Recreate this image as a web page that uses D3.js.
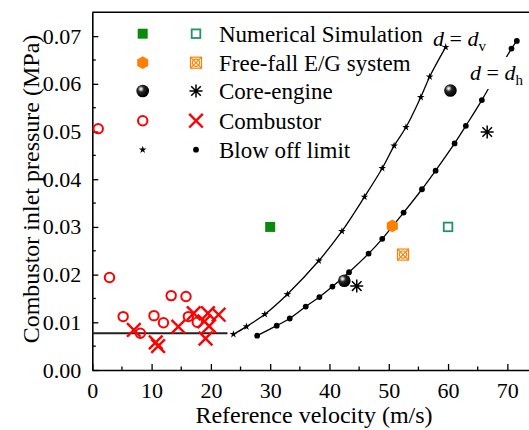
<!DOCTYPE html>
<html>
<head>
<meta charset="utf-8">
<script src="https://cdn.jsdelivr.net/npm/d3@7"></script>
<style>
  html, body { margin: 0; padding: 0; background: #fff; overflow: hidden; }
  svg { display: block; font-family: "Liberation Serif", "Times New Roman", serif; }
</style>
</head>
<body>
<svg id="chart" width="529" height="430"></svg>
<script>
// Reference velocity (m/s), combustor inlet pressure (MPa)
const numSimFilled = [[30.0, 0.0300]];
const numSimOpen = [[60.0, 0.0300]];
const freeFallFilled = [[50.6, 0.0302]];
const freeFallOpen = [[52.4, 0.0242]];
const coreBall = [[42.5, 0.0187], [60.4, 0.0586]];
const coreStar = [[44.6, 0.0176], [66.6, 0.0499]];
const combustorCircle = [
  [1.0, 0.0506], [2.9, 0.0194], [5.2, 0.0112], [8.1, 0.0077], [10.4, 0.0114],
  [12.0, 0.0099], [13.3, 0.0156], [15.8, 0.0154], [16.2, 0.0112], [17.7, 0.0100]
];
const combustorCross = [
  [7.0, 0.0084], [10.7, 0.0058], [11.1, 0.0050], [14.5, 0.0091], [17.1, 0.0119],
  [18.9, 0.0102], [19.1, 0.0066], [19.5, 0.0119], [19.7, 0.0092], [21.3, 0.0116]
];
// Blow off limit, d = d_v
const blowOffV = [
  [23.8, 0.0075], [26.0, 0.0091], [29.1, 0.0117], [32.9, 0.0159], [38.2, 0.0229],
  [42.1, 0.0291], [45.9, 0.0363], [48.9, 0.0423], [50.9, 0.0470], [52.9, 0.0509],
  [55.4, 0.0572], [56.9, 0.0615], [59.6, 0.0677]
];
// Blow off limit, d = d_h
const blowOffH = [
  [27.8, 0.0072], [31.1, 0.0093], [33.3, 0.0108], [36.0, 0.0133], [38.3, 0.0153],
  [40.5, 0.0175], [43.3, 0.0205], [46.6, 0.0244], [48.9, 0.0275], [52.5, 0.0330],
  [55.6, 0.0379], [57.9, 0.0418], [61.1, 0.0475], [63.0, 0.0512], [65.7, 0.0566],
  [70.7, 0.0674], [71.6, 0.0690]
];
const lowLimit = [[0, 0.0077], [22.8, 0.0077]];
const xTicks = [0, 10, 20, 30, 40, 50, 60, 70];
const yTicks = [0, 0.01, 0.02, 0.03, 0.04, 0.05, 0.06, 0.07];
const legendRows = [
  "Numerical Simulation", "Free-fall E/G system", "Core-engine", "Combustor", "Blow off limit"
];

const svg = d3.select("#chart");
const x = d3.scaleLinear().domain([0, 75]).range([92.3, 537]);
const y = d3.scaleLinear().domain([0, 0.075]).range([370, 12.3]);

const defs = svg.append("defs");
const grad = defs.append("radialGradient").attr("id", "ball")
  .attr("cx", "36%").attr("cy", "34%").attr("r", "62%");
grad.append("stop").attr("offset", "0%").attr("stop-color", "#ffffff");
grad.append("stop").attr("offset", "14%").attr("stop-color", "#c8c8c8");
grad.append("stop").attr("offset", "40%").attr("stop-color", "#262626");
grad.append("stop").attr("offset", "100%").attr("stop-color", "#000000");

// Marker painters
const orange = "#ff8000";
const mk = {
  sqFilled: (g) => g.append("rect").attr("x", -5).attr("y", -5).attr("width", 10).attr("height", 10)
      .attr("fill", "#0a8a0a"),
  sqOpen: (g) => g.append("rect").attr("x", -4.3).attr("y", -4.3).attr("width", 8.6).attr("height", 8.6)
      .attr("fill", "none").attr("stroke", "#1f9466").attr("stroke-width", 1.8),
  hex: (g) => g.append("path")
      .attr("d", d3.range(6).map(i => { const a = Math.PI / 3 * i + Math.PI / 6; return (i ? "L" : "M") + (6.4 * Math.cos(a)) + "," + (6.4 * Math.sin(a)); }).join("") + "Z")
      .attr("fill", orange),
  crossSq: (g) => {
    g.append("rect").attr("x", -5.5).attr("y", -5.5).attr("width", 11).attr("height", 11)
      .attr("fill", "none").attr("stroke", orange).attr("stroke-width", 1.2);
    g.append("path").attr("d", "M-5.5,-5.5L5.5,5.5M-5.5,5.5L5.5,-5.5").attr("stroke", orange).attr("stroke-width", 1.2);
    g.append("circle").attr("r", 3.6).attr("fill", "none").attr("stroke", orange).attr("stroke-width", 1.2);
  },
  ball: (g) => g.append("circle").attr("r", 6.3).attr("fill", "url(#ball)"),
  asterisk: (g) => g.append("path")
      .attr("d", "M-6.5,0L6.5,0M0,-6.5L0,6.5M-4.8,-4.8L4.8,4.8M-4.8,4.8L4.8,-4.8")
      .attr("stroke", "#000").attr("stroke-width", 1.5),
  circle: (g) => g.append("circle").attr("r", 4.7).attr("fill", "none")
      .attr("stroke", "#ff0000").attr("stroke-width", 2),
  cross: (g) => g.append("path").attr("d", "M-6.8,-6.8L6.8,6.8M-6.8,6.8L6.8,-6.8")
      .attr("stroke", "#ff0000").attr("stroke-width", 2.4),
  star: (g) => g.append("path").attr("d", d3.symbol(d3.symbolStar, 18)()).attr("fill", "#000"),
  dot: (g) => g.append("circle").attr("r", 2.9).attr("fill", "#000")
};

function plotPoints(data, painter, layer) {
  data.forEach(d => {
    const g = layer.append("g").attr("transform", `translate(${x(d[0])},${y(d[1])})`);
    painter(g);
  });
}

// Axes with inward ticks
const xAxis = svg.append("g").attr("transform", `translate(0,${y(0)})`);
xAxis.call(d3.axisBottom(x).tickValues(xTicks).tickSizeInner(-6).tickSizeOuter(0).tickPadding(12)
  .tickFormat(d3.format("d")));
xAxis.append("g").selectAll("line").data(d3.range(5, 75, 10)).join("line")
  .attr("x1", d => x(d)).attr("x2", d => x(d)).attr("y1", 0).attr("y2", -3.5).attr("stroke", "#000").attr("stroke-width", 1.3);

const yAxis = svg.append("g").attr("transform", `translate(${x(0)},0)`);
yAxis.call(d3.axisLeft(y).tickValues(yTicks).tickSizeInner(-6).tickSizeOuter(0).tickPadding(11)
  .tickFormat(d3.format(".2f")));
yAxis.append("g").selectAll("line").data(d3.range(0.005, 0.075, 0.01)).join("line")
  .attr("x1", 0).attr("x2", 3.5).attr("y1", d => y(d)).attr("y2", d => y(d)).attr("stroke", "#000").attr("stroke-width", 1.3);

[xAxis, yAxis].forEach(a => {
  a.select(".domain").attr("stroke", "#000").attr("stroke-width", 1.6);
  a.selectAll(".tick line").attr("stroke", "#000").attr("stroke-width", 1.3);
  a.selectAll(".tick text").attr("fill", "#000").style("font-size", "22px")
    .style("font-family", "'Liberation Serif', serif");
});
// Frame top edge
svg.append("line").attr("x1", x(0)).attr("x2", x(75)).attr("y1", y(0.075)).attr("y2", y(0.075))
  .attr("stroke", "#000").attr("stroke-width", 1.6);

// Axis titles
svg.append("text").attr("x", 314).attr("y", 423).attr("text-anchor", "middle")
  .style("font-size", "24px").text("Reference velocity (m/s)");
svg.append("text").attr("transform", "translate(39,189) rotate(-90)").attr("text-anchor", "middle")
  .style("font-size", "24px").text("Combustor inlet pressure (MPa)");

// Curves
const plot = svg.append("g");
const line = d3.line().x(d => x(d[0])).y(d => y(d[1])).curve(d3.curveCatmullRom.alpha(0.5));
plot.append("path").datum(lowLimit).attr("d", d3.line().x(d => x(d[0])).y(d => y(d[1])))
  .attr("stroke", "#222").attr("stroke-width", 2).attr("fill", "none");
plot.append("path").datum(blowOffV).attr("d", line).attr("stroke", "#000").attr("stroke-width", 1.3).attr("fill", "none");
plot.append("path").datum(blowOffH).attr("d", line).attr("stroke", "#000").attr("stroke-width", 1.3).attr("fill", "none");
plotPoints(blowOffV, mk.star, plot);
plotPoints(blowOffH, mk.dot, plot);

// Experimental and simulated points
plotPoints(combustorCircle, mk.circle, plot);
plotPoints(combustorCross, mk.cross, plot);
plotPoints(numSimFilled, mk.sqFilled, plot);
plotPoints(numSimOpen, mk.sqOpen, plot);
plotPoints(freeFallFilled, mk.hex, plot);
plotPoints(freeFallOpen, mk.crossSq, plot);
plotPoints(coreBall, mk.ball, plot);
plotPoints(coreStar, mk.asterisk, plot);

// Curve labels
function curveLabel(px, py, sub) {
  const t = svg.append("text").attr("x", px).attr("y", py).style("font-size", "22px");
  t.append("tspan").style("font-style", "italic").text("d");
  t.append("tspan").text(" = ");
  t.append("tspan").style("font-style", "italic").text("d");
  t.append("tspan").attr("dy", 5).style("font-size", "15px").text(sub);
}
svg.append("rect").attr("x", 468).attr("y", 57).attr("width", 70).attr("height", 32).attr("fill", "#fff");
curveLabel(433, 46, "v");
curveLabel(470, 80, "h");

// Legend
const rowsY = [33.7, 62.7, 91, 120.7, 149.7];
const legendMarks = [
  [mk.sqFilled, mk.sqOpen], [mk.hex, mk.crossSq], [mk.ball, mk.asterisk],
  [mk.circle, mk.cross], [mk.star, mk.dot]
];
const legend = svg.append("g");
legendRows.forEach((label, i) => {
  const g1 = legend.append("g").attr("transform", `translate(142.7,${rowsY[i]})`);
  legendMarks[i][0](g1);
  const g2 = legend.append("g").attr("transform", `translate(196,${rowsY[i]})`);
  legendMarks[i][1](g2);
  legend.append("text").attr("x", 219).attr("y", rowsY[i] + 8).style("font-size", "23px").text(label);
});
</script>
</body>
</html>
